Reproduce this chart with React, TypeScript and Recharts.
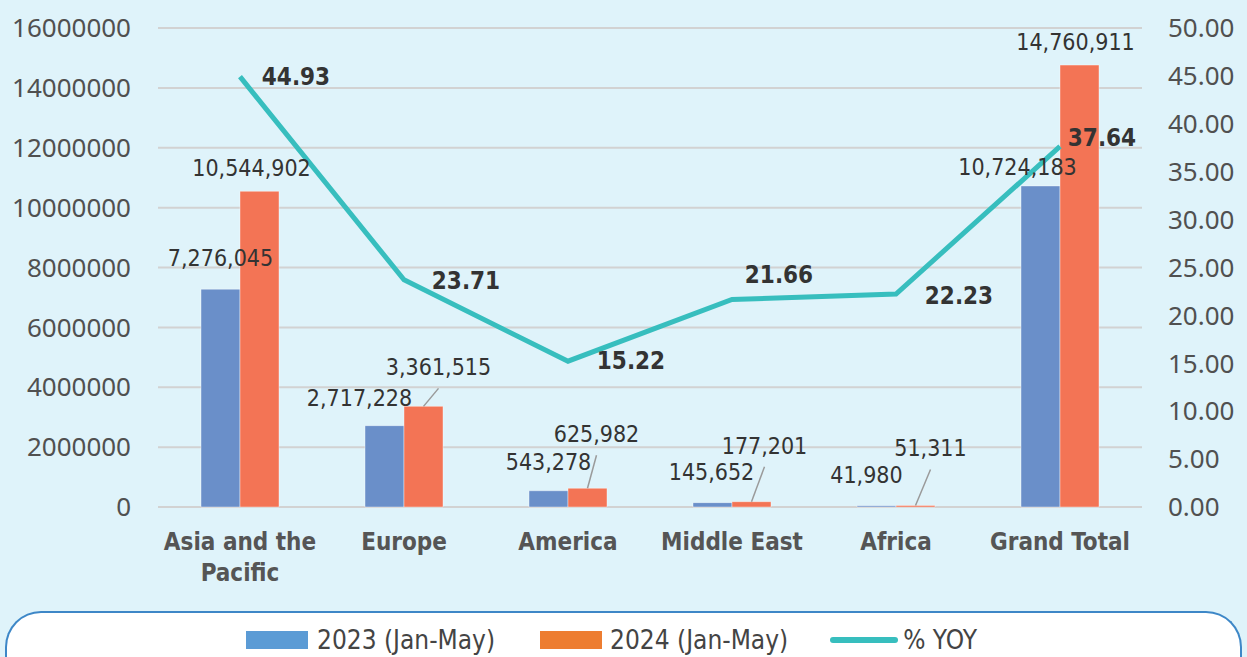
// @ts-nocheck
import React from "react";
import {
  ComposedChart, Bar, Line, XAxis, YAxis, CartesianGrid, Legend, LabelList,
} from "recharts";

const categories = ["Asia and the Pacific", "Europe", "America", "Middle East", "Africa", "Grand Total"];
const arrivals2023 = [7276045, 2717228, 543278, 145652, 41980, 10724183];
const arrivals2024 = [10544902, 3361515, 625982, 177201, 51311, 14760911];
const yoyPercent = [44.93, 23.71, 15.22, 21.66, 22.23, 37.64];
const leftTicks = [0, 2000000, 4000000, 6000000, 8000000, 10000000, 12000000, 14000000, 16000000];
const rightTicks = [0, 5, 10, 15, 20, 25, 30, 35, 40, 45, 50];

const data = categories.map((name, i) => ({
  name,
  y2023: arrivals2023[i],
  y2024: arrivals2024[i],
  yoy: yoyPercent[i],
}));

// label placement (dx from mark, dy of text centre from mark top), as in the source layout
const offsets2023 = [[0, -31], [-25, -28], [0, -29], [-1, -31], [-10, -31], [-23, -19]];
const offsets2024 = [[-8, -23], [15, -39], [9, -54], [13, -56], [15, -57], [-4, -23]];
const leader2024 = [false, true, true, true, true, false];
const offsetsYoy = [[56, 0], [62, 1], [63, 0], [47, -24], [63, 2], [42, -8]];

const BG = "#DFF3FA";
const BLUE = "#6A8FC9";
const ORANGE = "#F37455";
const TEAL = "#37BEBE";
const condensed = "'DejaVu Sans Condensed', 'DejaVu Sans', sans-serif";
const tickFont = "'Noto Sans', sans-serif";

const fmt = (v) => Number(v).toLocaleString("en-US");

const barLabel = (offsets, leaders) => (props) => {
  const { x, y, width, value, index } = props;
  const cx = x + width / 2;
  const [dx, dy] = offsets[index];
  const tx = cx + dx;
  const ty = y + dy;
  return (
    <g>
      {leaders && leaders[index] && (
        <line x1={tx} y1={ty + 21} x2={cx} y2={y} stroke="#9A9A9A" strokeWidth={1.5} />
      )}
      <text x={tx} y={ty} textAnchor="middle" dominantBaseline="central"
            fontFamily={condensed} fontSize={23} fill="#333">
        {fmt(value)}
      </text>
    </g>
  );
};

const yoyLabel = (props) => {
  const { x, y, value, index } = props;
  const [dx, dy] = offsetsYoy[index];
  return (
    <text x={x + dx} y={y + dy} textAnchor="middle" dominantBaseline="central"
          fontFamily={condensed} fontWeight={700} fontSize={24} fill="#333">
      {Number(value).toFixed(2)}
    </text>
  );
};

const CategoryTick = ({ x, y, payload }) => {
  const words = String(payload.value).split(" ");
  const lines = [];
  let cur = "";
  words.forEach((w) => {
    const next = cur ? cur + " " + w : w;
    if (next.length > 12 && cur) { lines.push(cur); cur = w; } else cur = next;
  });
  if (cur) lines.push(cur);
  return (
    <text x={x} y={y + 43} textAnchor="middle" fontFamily={condensed}
          fontWeight={700} fontSize={24} fill="#555">
      {lines.map((l, i) => (
        <tspan key={i} x={x} dy={i === 0 ? 0 : 31}>{l}</tspan>
      ))}
    </text>
  );
};

const LegendBox = () => {
  const text = { fontFamily: condensed, fontSize: 26, lineHeight: "28px", color: "#444", whiteSpace: "nowrap" };
  return (
    <div style={{
      boxSizing: "border-box", height: 46, margin: "0 5px", background: "#fff",
      border: "2px solid #3D87C7", borderBottom: "none", borderRadius: "36px 36px 0 0",
      display: "flex", justifyContent: "center", alignItems: "center", paddingTop: 10, paddingRight: 24,
    }}>
      <span style={{ display: "inline-block", width: 62, height: 18, background: "#5B9BD5", marginRight: 9 }} />
      <span style={text}>2023 (Jan-May)</span>
      <span style={{ display: "inline-block", width: 62, height: 18, background: "#ED7D31", marginLeft: 45, marginRight: 8 }} />
      <span style={text}>2024 (Jan-May)</span>
      <span style={{ display: "inline-block", width: 68, height: 6, borderRadius: 3, background: TEAL, marginLeft: 42, marginRight: 5 }} />
      <span style={text}>% YOY</span>
    </div>
  );
};

export default function App() {
  return (
    <div style={{ width: 1247, height: 657, background: BG, overflow: "hidden" }}>
      <style>{"body{margin:0}"}</style>
      <ComposedChart width={1247} height={657} data={data}
                     margin={{ top: 28, right: 0, left: 0, bottom: 0 }} barGap={0}>
        <CartesianGrid yAxisId="left" vertical={false} stroke="#D2D2D2" strokeWidth={2} />
        <XAxis dataKey="name" axisLine={false} tickLine={false} tickSize={0} tickMargin={0}
               height={104} interval={0} tick={<CategoryTick />} />
        <YAxis yAxisId="left" width={158} domain={[0, 16000000]} ticks={leftTicks}
               axisLine={false} tickLine={false} tickSize={0} tickMargin={27}
               tick={{ fontSize: 26, fill: "#505050", fontFamily: tickFont }}
               tickFormatter={(v) => String(v)} />
        <YAxis yAxisId="right" orientation="right" width={105} domain={[0, 50]} ticks={rightTicks}
               axisLine={false} tickLine={false} tickSize={0} tickMargin={26}
               tick={{ fontSize: 26, fill: "#505050", fontFamily: tickFont, textAnchor: "start" }}
               tickFormatter={(v) => Number(v).toFixed(2)} />
        <Legend verticalAlign="bottom" height={46} content={<LegendBox />} />
        <Bar yAxisId="left" dataKey="y2023" name="2023 (Jan-May)" fill={BLUE} barSize={39}
             stroke="#ffffff" strokeOpacity={0.4} strokeWidth={1} isAnimationActive={false}>
          <LabelList dataKey="y2023" content={barLabel(offsets2023, null)} />
        </Bar>
        <Bar yAxisId="left" dataKey="y2024" name="2024 (Jan-May)" fill={ORANGE} barSize={39}
             stroke="#ffffff" strokeOpacity={0.4} strokeWidth={1} isAnimationActive={false}>
          <LabelList dataKey="y2024" content={barLabel(offsets2024, leader2024)} />
        </Bar>
        <Line yAxisId="right" dataKey="yoy" name="% YOY" type="linear" stroke={TEAL}
              strokeWidth={5} dot={false} activeDot={false} isAnimationActive={false}>
          <LabelList dataKey="yoy" content={yoyLabel} />
        </Line>
      </ComposedChart>
    </div>
  );
}
